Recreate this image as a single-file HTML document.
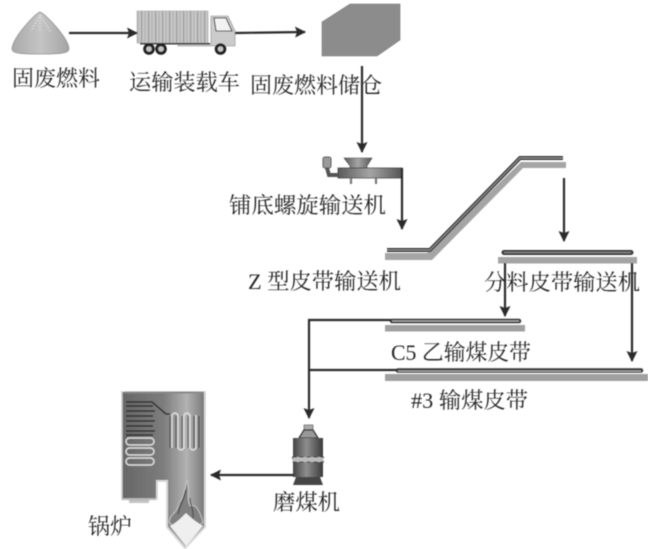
<!DOCTYPE html>
<html><head><meta charset="utf-8">
<style>
html,body{margin:0;padding:0;background:#fff}
svg{display:block}
text{font-family:"Liberation Serif","Noto Serif CJK SC",serif;fill:#262626;font-size:22px}
.g{filter:url(#b)}
</style></head>
<body>
<svg width="648" height="549" viewBox="0 0 648 549" xmlns="http://www.w3.org/2000/svg">
<defs>
<filter id="b"><feGaussianBlur stdDeviation="0.5"/></filter>
<marker id="a" markerUnits="userSpaceOnUse" markerWidth="13" markerHeight="12" refX="10" refY="6" orient="auto"><path d="M0,.5 L11,6 L0,11.500 L2,6Z" fill="#2a2a2a"/></marker>
<linearGradient id="pile" x1="0" x2="1"><stop offset="0" stop-color="#aaa"/><stop offset=".5" stop-color="#c4c4c4"/><stop offset="1" stop-color="#a4a4a4"/></linearGradient>
<linearGradient id="boil" x1="0" x2="1" y1="0" y2="0"><stop offset="0" stop-color="#666"/><stop offset=".5" stop-color="#7d7d7d"/><stop offset=".78" stop-color="#b2b2b2"/><stop offset="1" stop-color="#777"/></linearGradient>
<linearGradient id="mill" x1="0" x2="1"><stop offset="0" stop-color="#444"/><stop offset=".45" stop-color="#8e8e8e"/><stop offset="1" stop-color="#3a3a3a"/></linearGradient>
<linearGradient id="hop" x1="0" x2="1"><stop offset="0" stop-color="#5a5a5a"/><stop offset=".5" stop-color="#a5a5a5"/><stop offset="1" stop-color="#555"/></linearGradient>
<pattern id="stripes" width="7" height="10" patternUnits="userSpaceOnUse"><rect width="7" height="10" fill="#c6c6c6"/><rect x="1" width="1.2" height="10" fill="#999"/><rect x="4.500" width="1" height="10" fill="#adadad"/></pattern>
</defs>
<g class="g">
<!-- pile -->
<path d="M40,12 C47,15 69,39 69,49 C69,54 56,54 40,54 C24,54 12,54 12,49 C12,39 33,15 40,12Z" fill="url(#pile)" stroke="#8e8e8e" stroke-width=".7"/>
<path d="M40,15 L31,31 M40,15 L50,31 M40,17 V31" stroke="#e2e2e2" stroke-width="1.800" stroke-dasharray="1 2" fill="none"/>
<!-- truck -->
<rect x="137" y="11" width="71" height="32" fill="url(#stripes)" stroke="#aaa" stroke-width=".6"/>
<path d="M211,16 H228 L235,31 V46 H178 V44.500 H211Z" fill="#cbcbcb" stroke="#888" stroke-width=".6"/>
<path d="M214,18 H226 L232,31 H216 Z" fill="#f2f2f2" stroke="#333" stroke-width="1"/>
<rect x="140" y="43" width="70" height="1.400" fill="#222"/>
<circle cx="149" cy="49" r="5.800" fill="#222"/><circle cx="149" cy="49" r="2.800" fill="#c4c4c4"/>
<circle cx="161" cy="49" r="5.800" fill="#222"/><circle cx="161" cy="49" r="2.800" fill="#c4c4c4"/>
<circle cx="220.500" cy="49" r="5.800" fill="#222"/><circle cx="220.500" cy="49" r="2.800" fill="#c4c4c4"/>
<!-- bin -->
<path d="M322,56 V22 L350,4 H400 V40 L377,56Z" fill="#8c8c8c" stroke="#777" stroke-width=".6"/>
<!-- spiral feeder -->
<path d="M344,158 H372 L367,166 V168 H350 V166Z" fill="url(#hop)" stroke="#444" stroke-width=".6"/>
<rect x="338" y="168" width="64" height="10" fill="url(#hop)" stroke="#333" stroke-width=".7"/>
<rect x="323" y="157" width="8" height="11" rx="2" fill="#9a9a9a" stroke="#333" stroke-width=".8"/>
<path d="M327,168 L329,175 H338" stroke="#555" stroke-width="4" fill="none"/>
<path d="M351,178 V184 M376,178 V184" stroke="#777" stroke-width="2.200"/>
<!-- Z conveyor -->
<path d="M385,253 H427 L521,162 H566 V168 H523 L432,260 H385Z" fill="#a5a5a5"/>
<path d="M387,250 H430 L520,158 H563" stroke="#3a3a3a" stroke-width="4" fill="none"/>
<path d="M387,250 H430 L520,158 H563" stroke="#999" stroke-width="1" fill="none"/>
<!-- distributor -->
<rect x="498" y="257" width="139" height="6.500" fill="#a5a5a5"/>
<line x1="504" y1="252.500" x2="631" y2="252.500" stroke="#3a3a3a" stroke-width="5" stroke-linecap="round"/>
<line x1="504" y1="252.500" x2="631" y2="252.500" stroke="#999" stroke-width="1"/>
<!-- C5 -->
<rect x="385" y="325" width="140" height="6.500" fill="#a0a0a0"/>
<line x1="392" y1="321" x2="519" y2="321" stroke="#3a3a3a" stroke-width="4.500" stroke-linecap="round"/>
<line x1="392" y1="321" x2="519" y2="321" stroke="#bbb" stroke-width="1"/>
<!-- #3 -->
<rect x="385" y="374" width="263" height="7" fill="#a0a0a0"/>
<line x1="398" y1="370.500" x2="641" y2="370.500" stroke="#3a3a3a" stroke-width="4.500" stroke-linecap="round"/>
<line x1="398" y1="371" x2="641" y2="371" stroke="#bbb" stroke-width="1"/>
<!-- boiler -->
<path d="M122,392 H205 V527 L185,549 L167,527 V481 H157 V500 H122Z" fill="url(#boil)"/>
<path d="M122,391 V499 H156" fill="none" stroke="#c8c8c8" stroke-width="1.500"/>
<path d="M157,500 V481 H167 V527 L185,548 L205,527 V391" fill="none" stroke="#d8d8d8" stroke-width="2"/>
<path d="M124,392.500 H204" stroke="#888" stroke-width="2"/>
<path d="M126,402 H152 L166,414 H170 M126,406 H153 M126,411 H155 M126,416 H153 M126,421 H155 M126,426 H153 M126,431 H155 M126,435 H153" stroke="#2e2e2e" stroke-width="1.500" fill="none"/>
<rect x="126" y="438" width="28" height="7" rx="3.500" fill="none" stroke="#ddd" stroke-width="1.400"/>
<rect x="126" y="448" width="28" height="7" rx="3.500" fill="none" stroke="#ddd" stroke-width="1.400"/>
<rect x="126" y="458" width="28" height="7" rx="3.500" fill="none" stroke="#ddd" stroke-width="1.400"/>
<path d="M172,448 V415 Q175,411 178,415 V448 Q181,452 184,448 V415 Q187,411 190,415 V448 Q193,452 196,448 V415" stroke="#e0e0e0" stroke-width="1.400" fill="none"/>
<path d="M170,448 V416 M176,448 V416 M182,448 V416 M188,448 V416 M194,448 V416 M199,448 V416" stroke="#2e2e2e" stroke-width=".9"/>
<rect x="129" y="500" width="20" height="3" fill="#c4c4c4"/>
<path d="M169,522 C171,512 176,516 179,503 C182,500 184,492 187,481 C190,490 186,498 190,506 C196,503 200,512 203,522 L186,540Z" fill="#808080" stroke="#c4c4c4" stroke-width="1"/>
<path d="M178,514 C180,505 184,500 186,490 M193,518 C194,510 190,505 190,498" stroke="#444" stroke-width="1" fill="none"/>
<path d="M170,526 C176,523 180,519 186,513 C192,519 198,523 203,526 L186,546Z" fill="#efefef"/>
<!-- mill -->
<rect x="304" y="425" width="9" height="5" fill="#aaa" stroke="#444" stroke-width=".6"/>
<path d="M304,430 H313 L318,438 H299Z" fill="#999" stroke="#222" stroke-width="1.200"/>
<rect x="293" y="438" width="30" height="39" fill="url(#mill)"/>
<rect x="292.500" y="457" width="31" height="5" fill="#bbb" stroke="#222" stroke-width=".8" stroke-dasharray="4 3"/>
<path d="M296,477 H320 L323,485 H293Z" fill="#444"/>
<!-- connectors -->
<g fill="none" stroke="#2a2a2a" stroke-width="2.200">
<path d="M69,33 H137" marker-end="url(#a)"/>
<path d="M235,33 L305,32" marker-end="url(#a)"/>
<path d="M362,66 V152" marker-end="url(#a)"/>
<path d="M402,168 V229" marker-end="url(#a)"/>
<path d="M564,178 V241" marker-end="url(#a)"/>
<path d="M505,263 V316" marker-end="url(#a)"/>
<path d="M632,263 V361" marker-end="url(#a)"/>
<path d="M391,320 H309 V418" marker-end="url(#a)"/>
<path d="M309,370 H397"/>
<path d="M294,475 H211" marker-end="url(#a)"/>
</g>
<!-- labels -->
<text x="12" y="86" textLength="88" lengthAdjust="spacingAndGlyphs">固废燃料</text>
<text x="129" y="90" textLength="111" lengthAdjust="spacingAndGlyphs">运输装载车</text>
<text x="250" y="93" textLength="132" lengthAdjust="spacingAndGlyphs">固废燃料储仓</text>
<text x="229" y="213" textLength="157" lengthAdjust="spacingAndGlyphs">铺底螺旋输送机</text>
<text x="248" y="289" textLength="153" lengthAdjust="spacingAndGlyphs">Z 型皮带输送机</text>
<text x="484" y="290" textLength="156" lengthAdjust="spacingAndGlyphs">分料皮带输送机</text>
<text x="391" y="360" textLength="140" lengthAdjust="spacingAndGlyphs">C5 乙输煤皮带</text>
<text x="411" y="408" textLength="117" lengthAdjust="spacingAndGlyphs">#3 输煤皮带</text>
<text x="273" y="510" textLength="67" lengthAdjust="spacingAndGlyphs">磨煤机</text>
<text x="88" y="534" textLength="44" lengthAdjust="spacingAndGlyphs">锅炉</text>
</g>
</svg>
</body></html>
